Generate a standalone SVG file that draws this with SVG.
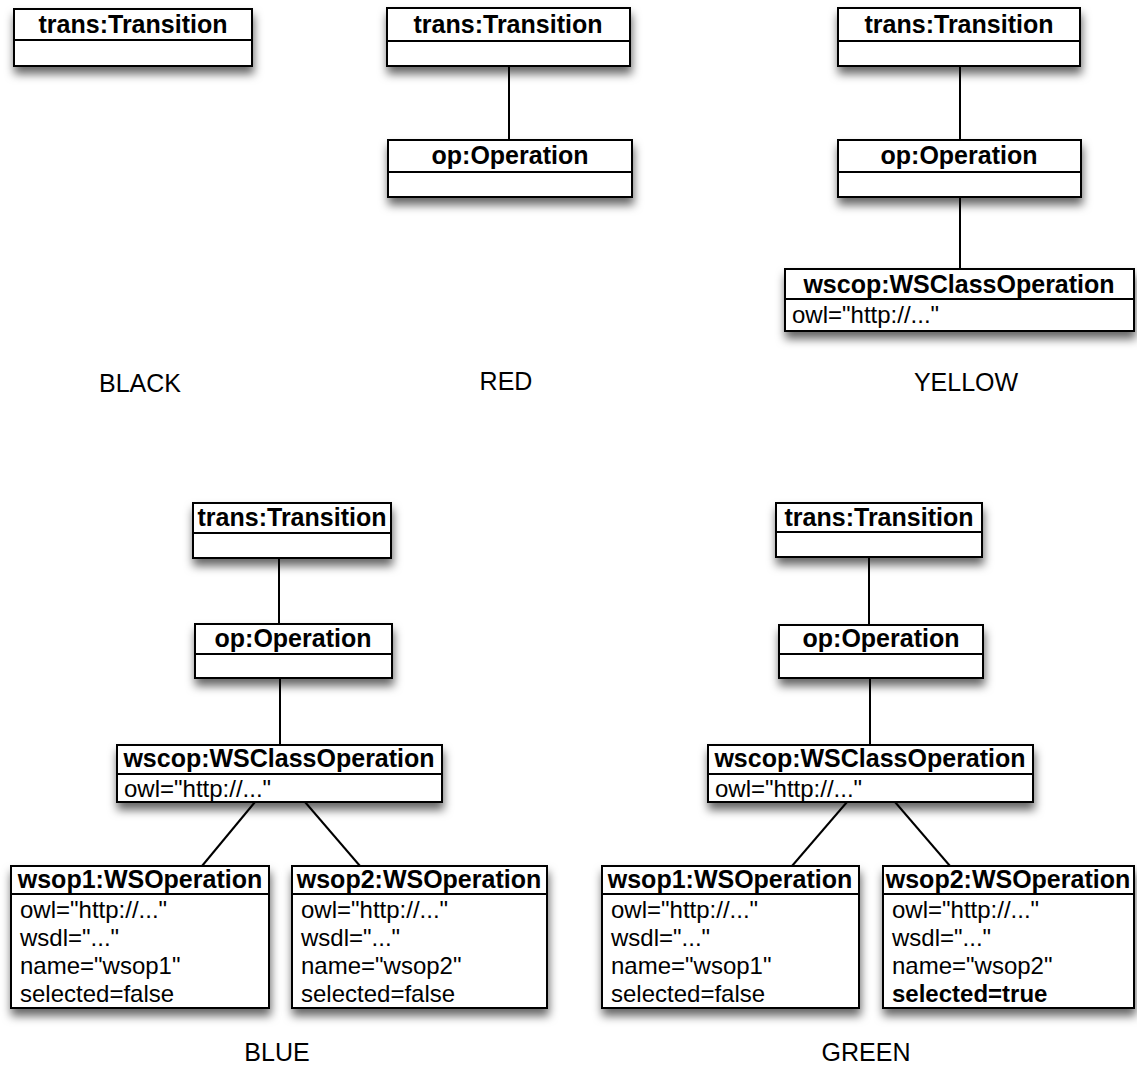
<svg xmlns="http://www.w3.org/2000/svg" width="1137" height="1065" viewBox="0 0 1137 1065">
  <defs>
    <filter id="shadow" x="-10%" y="-20%" width="120%" height="170%">
      <feDropShadow dx="1" dy="7" stdDeviation="5" flood-color="#000" flood-opacity="0.6"/>
    </filter>
  </defs>
  <style>
    .box { fill: #fff; stroke: #000; stroke-width: 2; filter: url(#shadow); }
    .div { stroke: #000; stroke-width: 2; }
    .hdr { font-family: "Liberation Sans", Arial, sans-serif; font-weight: bold; font-size: 25px; fill: #000; text-anchor: middle; }
    .att { font-family: "Liberation Sans", Arial, sans-serif; font-size: 24px; fill: #000; }
    .attb { font-family: "Liberation Sans", Arial, sans-serif; font-size: 24px; font-weight: bold; fill: #000; }
    .lbl { font-family: "Liberation Sans", Arial, sans-serif; font-size: 25px; fill: #000; text-anchor: middle; }
    .conn line { stroke: #000; stroke-width: 2; }
  </style>

  <!-- connectors -->
  <g id="connectors" class="conn">
    <line x1="509" y1="66" x2="509" y2="140"/>
    <line x1="960" y1="66" x2="960" y2="140"/>
    <line x1="960" y1="197" x2="960" y2="269"/>
    <line x1="279" y1="558" x2="279" y2="624"/>
    <line x1="280" y1="678" x2="280" y2="745"/>
    <line x1="255" y1="802" x2="202" y2="866"/>
    <line x1="305" y1="802" x2="360" y2="866"/>
    <line x1="869" y1="557" x2="869" y2="625"/>
    <line x1="870" y1="678" x2="870" y2="745"/>
    <line x1="847" y1="802" x2="792" y2="866"/>
    <line x1="895" y1="802" x2="950" y2="866"/>
  </g>

  <!-- BLACK -->
  <g id="black-trans">
    <rect class="box" x="14" y="9" width="238" height="57"/>
    <line class="div" x1="14" y1="40" x2="252" y2="40"/>
    <text class="hdr" x="133" y="33">trans:Transition</text>
  </g>
  <text class="lbl" x="140" y="392">BLACK</text>

  <!-- RED -->
  <g id="red-trans">
    <rect class="box" x="387" y="8" width="243" height="58"/>
    <line class="div" x1="387" y1="41" x2="630" y2="41"/>
    <text class="hdr" x="508" y="33">trans:Transition</text>
  </g>
  <g id="red-op">
    <rect class="box" x="388" y="140" width="244" height="57"/>
    <line class="div" x1="388" y1="172" x2="632" y2="172"/>
    <text class="hdr" x="510" y="164">op:Operation</text>
  </g>
  <text class="lbl" x="506" y="390">RED</text>

  <!-- YELLOW -->
  <g id="yellow-trans">
    <rect class="box" x="838" y="8" width="242" height="58"/>
    <line class="div" x1="838" y1="41" x2="1080" y2="41"/>
    <text class="hdr" x="959" y="33">trans:Transition</text>
  </g>
  <g id="yellow-op">
    <rect class="box" x="838" y="140" width="243" height="57"/>
    <line class="div" x1="838" y1="172" x2="1081" y2="172"/>
    <text class="hdr" x="959" y="164">op:Operation</text>
  </g>
  <g id="yellow-wscop">
    <rect class="box" x="785" y="269" width="349" height="62"/>
    <line class="div" x1="785" y1="299" x2="1134" y2="299"/>
    <text class="hdr" x="959" y="293">wscop:WSClassOperation</text>
    <text class="att" x="792" y="323">owl="http://..."</text>
  </g>
  <text class="lbl" x="966" y="391">YELLOW</text>

  <!-- BLUE -->
  <g id="blue-trans">
    <rect class="box" x="193" y="503" width="198" height="55"/>
    <line class="div" x1="193" y1="533" x2="391" y2="533"/>
    <text class="hdr" x="292" y="526">trans:Transition</text>
  </g>
  <g id="blue-op">
    <rect class="box" x="195" y="624" width="197" height="54"/>
    <line class="div" x1="195" y1="654" x2="392" y2="654"/>
    <text class="hdr" x="293" y="647">op:Operation</text>
  </g>
  <g id="blue-wscop">
    <rect class="box" x="117" y="745" width="325" height="57"/>
    <line class="div" x1="117" y1="774" x2="442" y2="774"/>
    <text class="hdr" x="279" y="767">wscop:WSClassOperation</text>
    <text class="att" x="124" y="797">owl="http://..."</text>
  </g>
  <g id="blue-wsop1">
    <rect class="box" x="11" y="866" width="258" height="142"/>
    <line class="div" x1="11" y1="894" x2="269" y2="894"/>
    <text class="hdr" x="140" y="888">wsop1:WSOperation</text>
    <text class="att" x="20" y="918">owl="http://..."</text>
    <text class="att" x="20" y="946">wsdl="..."</text>
    <text class="att" x="20" y="974">name="wsop1"</text>
    <text class="att" x="20" y="1002">selected=false</text>
  </g>
  <g id="blue-wsop2">
    <rect class="box" x="292" y="866" width="255" height="142"/>
    <line class="div" x1="292" y1="894" x2="547" y2="894"/>
    <text class="hdr" x="419" y="888">wsop2:WSOperation</text>
    <text class="att" x="301" y="918">owl="http://..."</text>
    <text class="att" x="301" y="946">wsdl="..."</text>
    <text class="att" x="301" y="974">name="wsop2"</text>
    <text class="att" x="301" y="1002">selected=false</text>
  </g>
  <text class="lbl" x="277" y="1061">BLUE</text>

  <!-- GREEN -->
  <g id="green-trans">
    <rect class="box" x="776" y="503" width="206" height="54"/>
    <line class="div" x1="776" y1="532" x2="982" y2="532"/>
    <text class="hdr" x="879" y="526">trans:Transition</text>
  </g>
  <g id="green-op">
    <rect class="box" x="779" y="625" width="204" height="53"/>
    <line class="div" x1="779" y1="654" x2="983" y2="654"/>
    <text class="hdr" x="881" y="647">op:Operation</text>
  </g>
  <g id="green-wscop">
    <rect class="box" x="708" y="745" width="325" height="57"/>
    <line class="div" x1="708" y1="774" x2="1033" y2="774"/>
    <text class="hdr" x="870" y="767">wscop:WSClassOperation</text>
    <text class="att" x="715" y="797">owl="http://..."</text>
  </g>
  <g id="green-wsop1">
    <rect class="box" x="602" y="866" width="257" height="142"/>
    <line class="div" x1="602" y1="894" x2="859" y2="894"/>
    <text class="hdr" x="730" y="888">wsop1:WSOperation</text>
    <text class="att" x="611" y="918">owl="http://..."</text>
    <text class="att" x="611" y="946">wsdl="..."</text>
    <text class="att" x="611" y="974">name="wsop1"</text>
    <text class="att" x="611" y="1002">selected=false</text>
  </g>
  <g id="green-wsop2">
    <rect class="box" x="883" y="866" width="251" height="142"/>
    <line class="div" x1="883" y1="894" x2="1134" y2="894"/>
    <text class="hdr" x="1008" y="888">wsop2:WSOperation</text>
    <text class="att" x="892" y="918">owl="http://..."</text>
    <text class="att" x="892" y="946">wsdl="..."</text>
    <text class="att" x="892" y="974">name="wsop2"</text>
    <text class="attb" x="892" y="1002">selected=true</text>
  </g>
  <text class="lbl" x="866" y="1061">GREEN</text>
</svg>
